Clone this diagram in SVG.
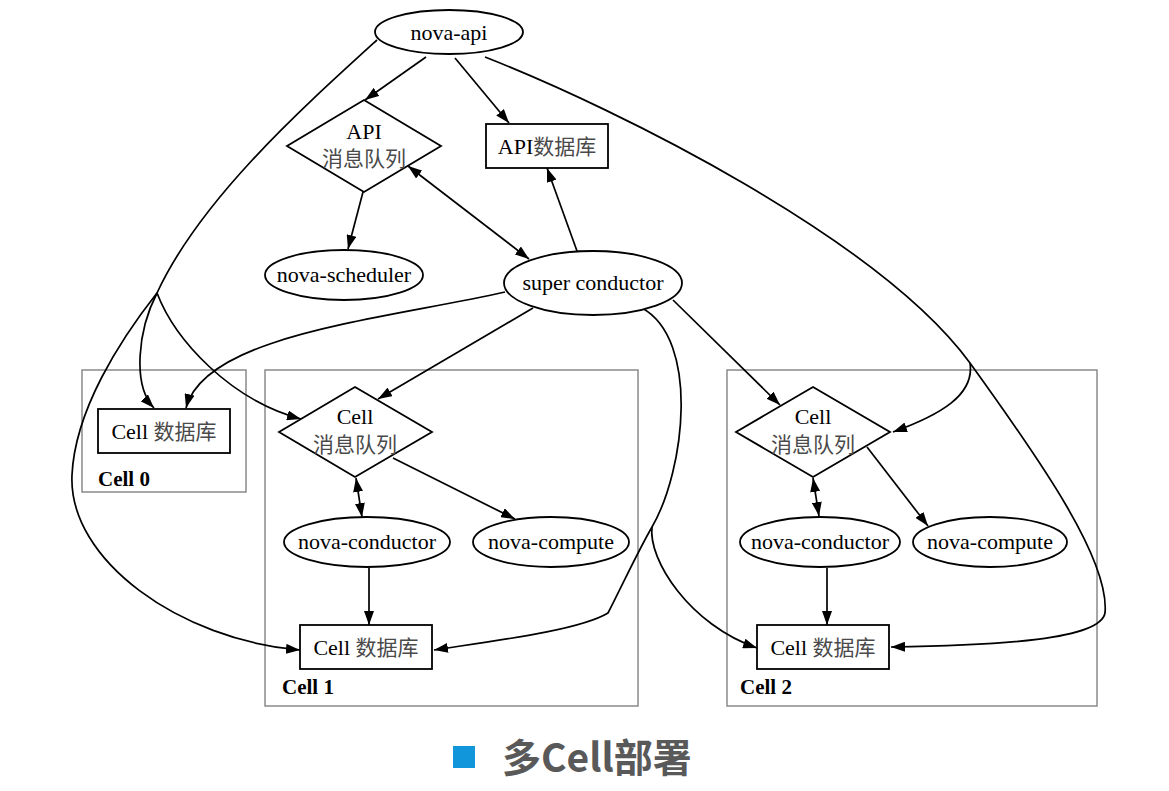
<svg xmlns="http://www.w3.org/2000/svg" width="1169" height="791" viewBox="0 0 1169 791">
<style>
.n{fill:#fff;stroke:#000;stroke-width:1.8}
.cl{fill:none;stroke:#8a8a8a;stroke-width:1.5}
.e{fill:none;stroke:#000;stroke-width:1.7;marker-end:url(#ah)}
.b{marker-start:url(#ah)}
.t{font-family:"Liberation Serif","Noto Sans CJK SC",serif;font-size:22px;fill:#000;text-anchor:middle}
.cj{fill:#4a4a4a;font-size:21px}
.lb{font-family:"Liberation Serif",serif;font-size:21px;font-weight:bold;fill:#000}
</style>
<defs>
<marker id="ah" viewBox="0 0 14 10" refX="14" refY="5" markerWidth="14" markerHeight="10" markerUnits="userSpaceOnUse" orient="auto-start-reverse"><path d="M0,0 L14,5 L0,10 z" fill="#000"/></marker>
</defs>
<rect width="1169" height="791" fill="#fff"/>

<g id="clusters">
<g id="cell0"><rect class="cl" x="82" y="370" width="164" height="122"/><text class="lb" x="98" y="486">Cell 0</text></g>
<g id="cell1"><rect class="cl" x="265" y="370" width="373" height="336"/><text class="lb" x="282" y="694">Cell 1</text></g>
<g id="cell2"><rect class="cl" x="727" y="370" width="370" height="336"/><text class="lb" x="740" y="694">Cell 2</text></g>
</g>

<g id="connectors">
<path class="e" d="M426,57 L365,100"/>
<path class="e" d="M455,58 L509,123"/>
<path class="e b" d="M408,166 L529,259"/>
<path class="e" d="M363,192 L348,249"/>
<path class="e" d="M577,251 L547,168"/>
<path class="e" d="M377,40 C300,110 200,200 157,293 C138,330 132,385 154,408"/>
<path class="e" d="M157,293 C175,340 230,400 301,419"/>
<path class="e" d="M157,293 C120,340 75,410 72,475 C68,560 180,640 300,650"/>
<path class="e" d="M505,292 C380,320 205,335 186,408"/>
<path class="e" d="M533,308 L378,399"/>
<path class="e" d="M642,308 C700,340 685,470 652,527 C637,553 620,590 608,613 C580,630 500,640 434,650"/>
<path class="e" d="M652,527 C648,560 690,625 757,648"/>
<path class="e" d="M673,300 L780,405"/>
<path class="e" d="M485,57 C620,110 880,240 970,363 C975,395 940,415 893,432"/>
<path class="e" d="M970,363 C1040,460 1110,560 1105,613 C1100,640 1000,645 891,647"/>
<path class="e b" d="M356,478 L362,517"/>
<path class="e" d="M393,458 L515,519"/>
<path class="e" d="M369,568 L369,625"/>
<path class="e b" d="M813,478 L819,516"/>
<path class="e" d="M867,447 L928,526"/>
<path class="e" d="M827,568 L827,625"/>
</g>

<g id="nova-api"><ellipse class="n" cx="449" cy="32" rx="74" ry="22"/><text class="t" x="449" y="40">nova-api</text></g>
<g id="api-mq"><polygon class="n" points="364,100 441,146 364,192 287,146"/><text class="t" x="364" y="139">API</text><text class="t cj" x="364" y="166">消息队列</text></g>
<g id="api-db"><rect class="n" x="486" y="124" width="122" height="44"/><text class="t" x="547" y="154">API<tspan class="cj">数据库</tspan></text></g>
<g id="nova-scheduler"><ellipse class="n" cx="344" cy="275" rx="79" ry="25"/><text class="t" x="344" y="282">nova-scheduler</text></g>
<g id="super-conductor"><ellipse class="n" cx="593" cy="283" rx="89" ry="32"/><text class="t" x="593" y="290">super conductor</text></g>

<g id="cell0-db"><rect class="n" x="98" y="409" width="132" height="44"/><text class="t" x="164" y="439">Cell <tspan class="cj">数据库</tspan></text></g>

<g id="cell1-mq"><polygon class="n" points="355,387 432,432 355,477 279,432"/><text class="t" x="355" y="424">Cell</text><text class="t cj" x="355" y="452">消息队列</text></g>
<g id="cell1-conductor"><ellipse class="n" cx="367" cy="542" rx="83" ry="25"/><text class="t" x="367" y="549">nova-conductor</text></g>
<g id="cell1-compute"><ellipse class="n" cx="551" cy="542" rx="78" ry="25"/><text class="t" x="551" y="549">nova-compute</text></g>
<g id="cell1-db"><rect class="n" x="300" y="625" width="132" height="44"/><text class="t" x="366" y="655">Cell <tspan class="cj">数据库</tspan></text></g>

<g id="cell2-mq"><polygon class="n" points="813,387 890,432 813,477 736,432"/><text class="t" x="813" y="424">Cell</text><text class="t cj" x="813" y="452">消息队列</text></g>
<g id="cell2-conductor"><ellipse class="n" cx="820" cy="542" rx="80" ry="25"/><text class="t" x="820" y="549">nova-conductor</text></g>
<g id="cell2-compute"><ellipse class="n" cx="990" cy="542" rx="77" ry="25"/><text class="t" x="990" y="549">nova-compute</text></g>
<g id="cell2-db"><rect class="n" x="757" y="625" width="132" height="44"/><text class="t" x="823" y="655">Cell <tspan class="cj">数据库</tspan></text></g>

<g id="title">
<rect x="453" y="746" width="22" height="22" fill="#1296db"/>
<text x="502" y="772" font-family="'Noto Sans CJK SC',sans-serif" font-size="39" font-weight="bold" fill="#595959">多Cell部署</text>
</g>
</svg>
